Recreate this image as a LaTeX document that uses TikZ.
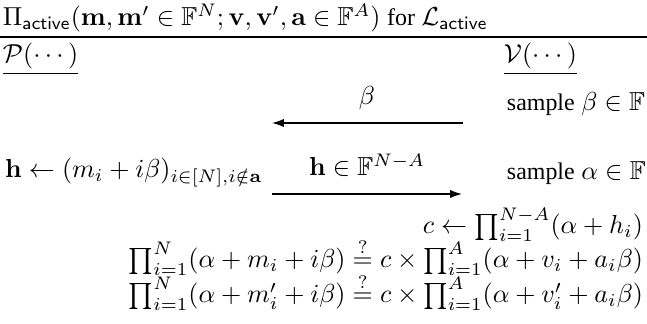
\documentclass[tikz,border=0pt]{standalone}
\usepackage{amsmath,amssymb}
\usepackage[no-math]{fontspec}
\setmainfont{Liberation Serif}
\usetikzlibrary{arrows.meta}
\newcommand{\wrd}[1]{{\fontsize{9.2pt}{11pt}\selectfont #1}}
\begin{document}
\begin{tikzpicture}[x=0.3846pt,y=-0.3846pt,
  txt/.style={inner sep=0pt,outer sep=0pt},
  msg/.style={line width=0.5pt,-{Latex[length=4.6pt,width=3.2pt]}},
  rulel/.style={line width=0.8pt}]
\useasboundingbox (0,0) rectangle (647,324);
% title
\node[txt,anchor=base west] (title) at (3,26)
  {$\Pi_{\mathsf{active}}(\mathbf{m},\mathbf{m}'\in\mathbb{F}^N;\mathbf{v},\mathbf{v}',\mathbf{a}\in\mathbb{F}^A)$ \wrd{for} $\mathcal{L}_{\mathsf{active}}$};
\coordinate (rl) at (0,37);
\coordinate (rr) at (647,37);
\draw[rulel] (rl) -- (rr);
% parties
\node[txt,anchor=base west] (P) at (3,63) {\underline{$\mathcal{P}(\cdots)$}};
\node[txt,anchor=base west] (V) at (504,63) {\underline{$\mathcal{V}(\cdots)$}};
% round 1
\node[txt,anchor=base west] (s1) at (507,111) {\wrd{sample} $\beta\in\mathbb{F}$};
\coordinate (a1s) at (463,123);
\coordinate (a1e) at (272,123);
\draw[msg] (a1s) -- (a1e);
\node[txt,anchor=base] (l1) at (367,105) {$\beta$};
% round 2
\node[txt,anchor=base west] (hrow) at (5,178) {$\mathbf{h}\leftarrow(m_i+i\beta)_{i\in[N],i\notin\mathbf{a}}$};
\node[txt,anchor=base west] (s2) at (507,180) {\wrd{sample} $\alpha\in\mathbb{F}$};
\coordinate (a2s) at (272,194);
\coordinate (a2e) at (462,194);
\draw[msg] (a2s) -- (a2e);
\node[txt,anchor=base] (l2) at (367,176) {$\mathbf{h}\in\mathbb{F}^{N-A}$};
% checks
\node[txt,anchor=base east] (c1) at (643,234) {$c\leftarrow\prod_{i=1}^{N-A}(\alpha+h_i)$};
\node[txt,anchor=base east] (c2) at (643,268) {$\prod_{i=1}^{N}(\alpha+m_i+i\beta)\stackrel{?}{=}c\times\prod_{i=1}^{A}(\alpha+v_i+a_i\beta)$};
\node[txt,anchor=base east] (c3) at (643,303) {$\prod_{i=1}^{N}(\alpha+m'_i+i\beta)\stackrel{?}{=}c\times\prod_{i=1}^{A}(\alpha+v'_i+a_i\beta)$};
\end{tikzpicture}
\end{document}
